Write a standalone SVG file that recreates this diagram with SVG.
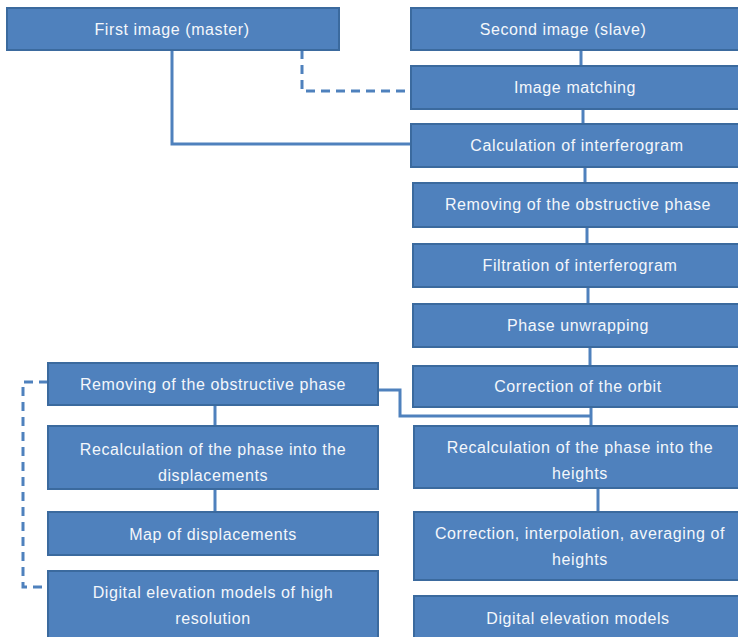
<svg xmlns="http://www.w3.org/2000/svg" width="738" height="637" viewBox="0 0 738 637">
<style>
.box{fill:#4F81BD;stroke:#3B6A9E;stroke-width:2}
.t{font-family:"Liberation Sans",Arial,sans-serif;font-size:16px;letter-spacing:0.6px;fill:#F4F7FB;text-anchor:middle}
.c{fill:none;stroke:#4F81BD;stroke-width:3}
.d{fill:none;stroke:#4F81BD;stroke-width:3;stroke-dasharray:9,6}
</style>
<rect width="738" height="637" fill="#FFFFFF"/>
<g id="connectors">
<path class="c" d="M172,50 V144 H412"/>
<path class="d" d="M302,50 V91 H412"/>
<path class="c" d="M581,50 V66"/>
<path class="c" d="M583,109 V124"/>
<path class="c" d="M585,167 V183"/>
<path class="c" d="M587,227 V244"/>
<path class="c" d="M588,287 V304"/>
<path class="c" d="M590,347 V366"/>
<path class="c" d="M591,407 V426"/>
<path class="c" d="M378,390 H400 V416 H591"/>
<path class="c" d="M215,405 V426"/>
<path class="c" d="M215,489 V512"/>
<path class="c" d="M598,488 V512"/>
<path class="d" d="M48,382 H23 V587 H48"/>
</g>
<g id="n1"><rect class="box" x="7" y="8" width="332" height="42"/><text class="t" x="172" y="35">First image  (master)</text></g>
<g id="n2"><rect class="box" x="411" y="8" width="332" height="42"/><text class="t" x="563" y="35">Second image (slave)</text></g>
<g id="n3"><rect class="box" x="411" y="66" width="332" height="43"/><text class="t" x="575" y="93">Image  matching</text></g>
<g id="n4"><rect class="box" x="411" y="124" width="332" height="43"/><text class="t" x="577" y="151">Calculation of interferogram</text></g>
<g id="n5"><rect class="box" x="413" y="183" width="330" height="44"/><text class="t" x="578" y="210">Removing of the obstructive phase</text></g>
<g id="n6"><rect class="box" x="413" y="244" width="330" height="43"/><text class="t" x="580" y="271">Filtration of interferogram</text></g>
<g id="n7"><rect class="box" x="413" y="304" width="330" height="43"/><text class="t" x="578" y="331">Phase unwrapping</text></g>
<g id="n8"><rect class="box" x="413" y="366" width="330" height="41"/><text class="t" x="578" y="392">Correction of the orbit</text></g>
<g id="n9"><rect class="box" x="414" y="426" width="330" height="62"/><text class="t" x="580" y="453">Recalculation of the phase into the</text><text class="t" x="580" y="479">heights</text></g>
<g id="n10"><rect class="box" x="414" y="512" width="330" height="68"/><text class="t" x="580" y="539">Correction, interpolation, averaging of</text><text class="t" x="580" y="565">heights</text></g>
<g id="n11"><rect class="box" x="414" y="596" width="330" height="50"/><text class="t" x="578" y="624">Digital elevation models</text></g>
<g id="n12"><rect class="box" x="48" y="363" width="330" height="42"/><text class="t" x="213" y="390">Removing of the obstructive phase</text></g>
<g id="n13"><rect class="box" x="48" y="426" width="330" height="63"/><text class="t" x="213" y="455">Recalculation of the phase into the</text><text class="t" x="213" y="481">displacements</text></g>
<g id="n14"><rect class="box" x="48" y="512" width="330" height="43"/><text class="t" x="213" y="540">Map of displacements</text></g>
<g id="n15"><rect class="box" x="48" y="571" width="330" height="75"/><text class="t" x="213" y="598">Digital elevation models of high</text><text class="t" x="213" y="624">resolution</text></g>
</svg>
